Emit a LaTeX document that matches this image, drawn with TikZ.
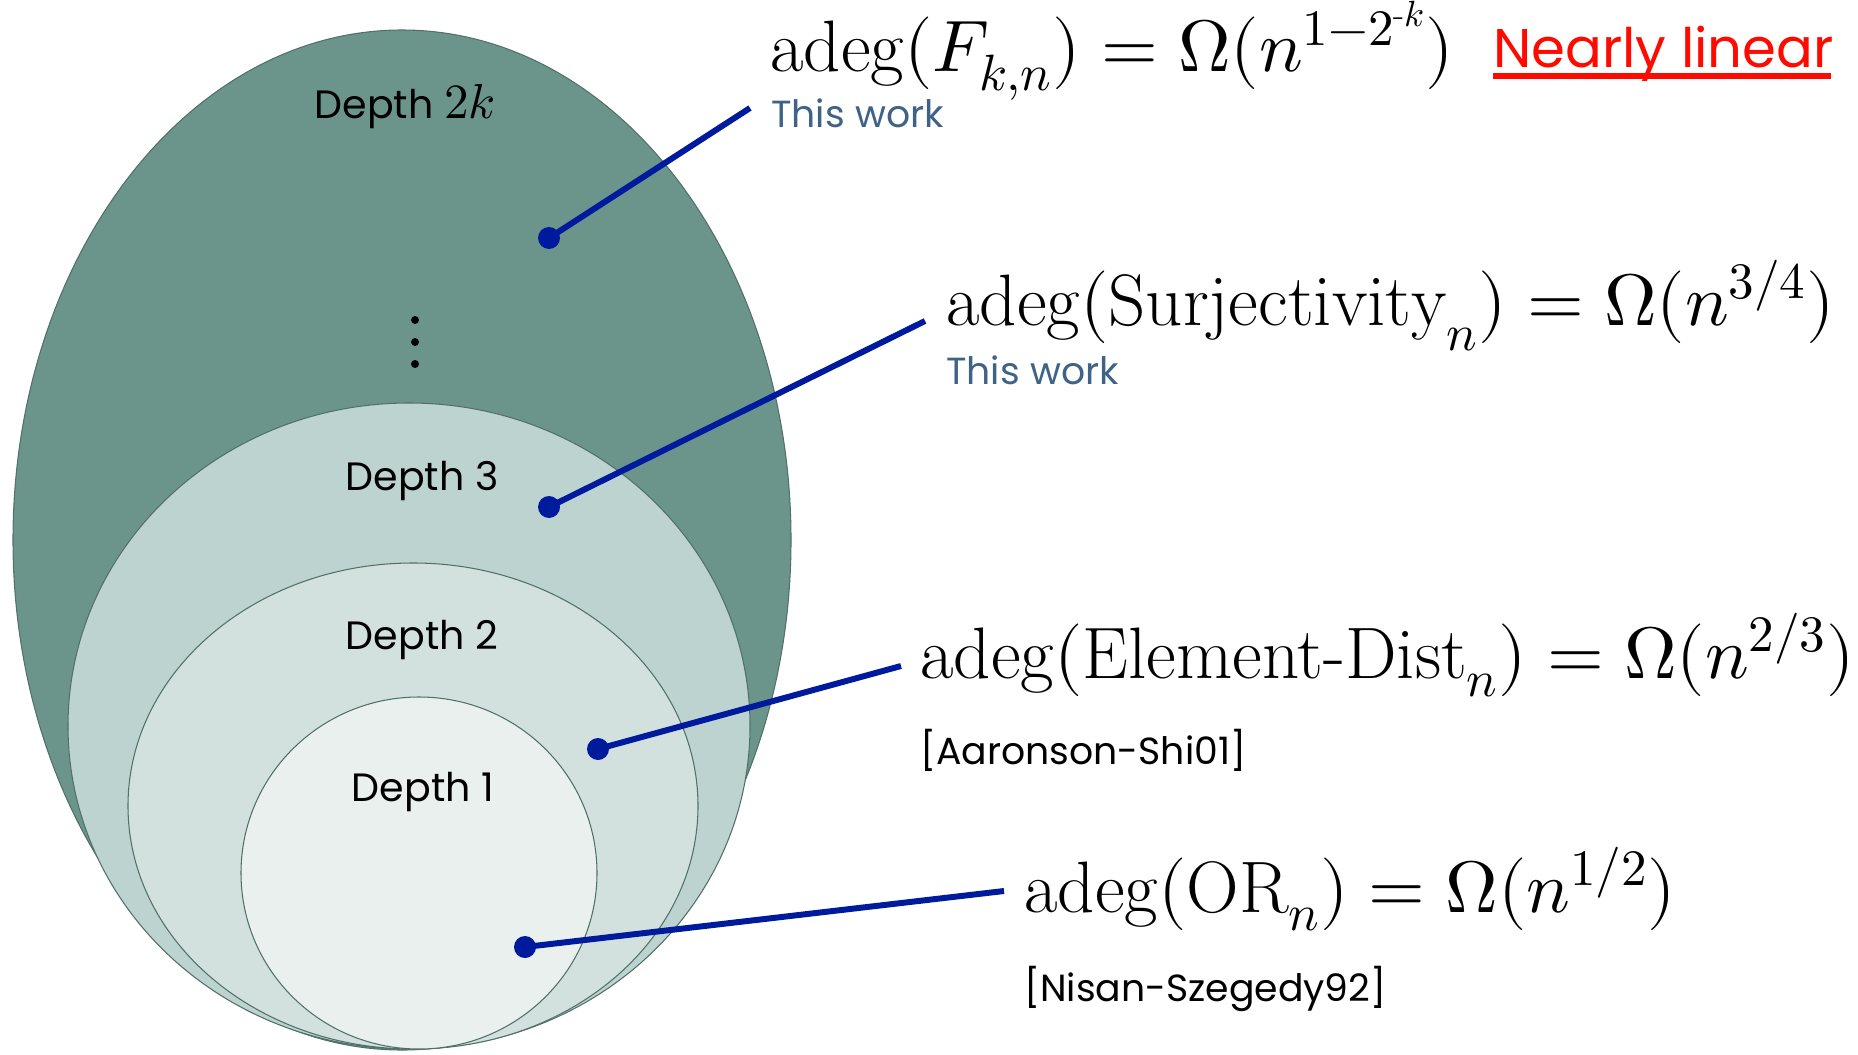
\documentclass[tikz,border=0pt]{standalone}
\usepackage{amsmath}
\usepackage{unicode-math}
\setmathfont{Latin Modern Math}
\newfontfamily\geofont{Poppins}
\usetikzlibrary{positioning}
\definecolor{depthK}{RGB}{107,149,139}
\definecolor{depthC}{RGB}{189,211,208}
\definecolor{depthB}{RGB}{211,225,222}
\definecolor{depthA}{RGB}{233,240,238}
\definecolor{rim}{RGB}{80,112,104}
\definecolor{pointer}{RGB}{0,26,158}
\definecolor{workblue}{RGB}{63,99,135}
\definecolor{nearred}{RGB}{255,10,0}

\begin{document}
\begin{tikzpicture}[x=0.02cm,y=-0.02cm,
  depthlbl/.style={font=\geofont\fontsize{22.5}{27}\selectfont,inner sep=0},
  formula/.style={font=\fontsize{41.5}{50}\selectfont,inner sep=0,anchor=base west},
  note/.style={font=\geofont\fontsize{21.5}{26}\selectfont,inner sep=0,anchor=base west},
  dotpin/.style={circle,fill=pointer,inner sep=0,minimum size=0.44cm},
  pointerline/.style={pointer,line width=3.4pt}]
\useasboundingbox (0,0) rectangle (1858,1054);
% nested depth classes, outermost first
\foreach \c/\x/\y/\rx/\ry in {depthK/402/540/389/510,depthC/409/726/341/323,
  depthB/413/806/285/243,depthA/419/873/178/176}{
\filldraw[fill=\c,draw=rim,line width=0.6pt] (\x,\y) ellipse [x radius=\rx,y radius=\ry];
}
\node[depthlbl] (dK) at (405,107) {Depth {\fontsize{28}{30}\selectfont$2k$}};
\node[depthlbl] (dC) at (422,481) {Depth 3};
\node[depthlbl] (dB) at (422,640) {Depth 2};
\node[depthlbl] (dA) at (423,792) {Depth 1};
\foreach \y in {320,342,364}{
\fill (415,\y) circle [radius=4];
}
% bounds
\node[formula] (fK) at (770,72) {$\mathrm{adeg}(F_{k,n}) = \Omega(n^{1-2^{\text{-}k}})$};
\node[formula] (fC) at (946,325) {$\mathrm{adeg}(\mathrm{Surjectivity}_n) = \Omega(n^{3/4})$};
\node[formula] (fB) at (920,678) {$\mathrm{adeg}(\text{Element-Dist}_n) = \Omega(n^{2/3})$};
\node[formula] (fA) at (1024,912) {$\mathrm{adeg}(\mathrm{OR}_n) = \Omega(n^{1/2})$};
\node[note,text=workblue] (wK) at (771,128) {This work};
\node[note,text=workblue] (wC) at (946,384) {This work};
\node[note] (rB) at (920,764) {[Aaronson-Shi01]};
\node[note] (rA) at (1024,1001) {[Nisan-Szegedy92]};
\node[font=\geofont\fontsize{31}{36}\selectfont,inner sep=0,anchor=base west,text=nearred] (lin) at (1493,68) {Nearly linear};
\draw[nearred,line width=3pt] (lin.base west) ++(0,8) -- ++(338,0);
% pointers
\node[dotpin] (pK) at (549,238) {};
\node[dotpin] (pC) at (549,507) {};
\node[dotpin] (pB) at (598,749) {};
\node[dotpin] (pA) at (525,947) {};
\coordinate (eK) at (750,108);
\coordinate (eC) at (925,321);
\coordinate (eB) at (901,666);
\coordinate (eA) at (1004,891);
\foreach \p in {K,C,B,A}{
\draw[pointerline] (p\p.center) -- (e\p);
}
\end{tikzpicture}
\end{document}
